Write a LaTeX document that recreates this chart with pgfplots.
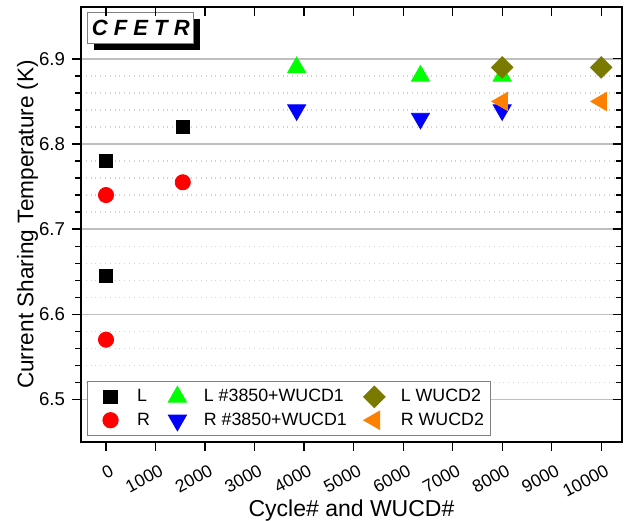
\documentclass[border=0pt]{standalone}
\usepackage{pgfplots}
\pgfplotsset{compat=1.18}
\usepackage{fontspec}
\setmainfont{Liberation Sans}
\setsansfont{Liberation Sans}
\usetikzlibrary{shadows}
\definecolor{mygreen}{RGB}{0,255,0}
\definecolor{myblue}{RGB}{0,0,255}
\definecolor{myred}{RGB}{255,0,0}
\definecolor{myolive}{RGB}{122,122,0}
\definecolor{myorange}{RGB}{255,128,0}
\begin{document}
\begin{tikzpicture}
\pgfplotsset{
  common/.style={
    scale only axis, width=270.5pt, height=217.4pt,
    xmin=-505, xmax=10420, ymin=6.45, ymax=6.961,
    xtick={0,1000,...,10000},
    ytick={6.5,6.6,6.7,6.8,6.9},
    minor y tick num=4,
    scaled x ticks=false,
    tick style={line width=0.6pt, black},
    major tick length=4.5pt, minor tick length=3pt,
  }
}
\begin{axis}[common,
  axis line style={line width=0.8pt},
  tick align=outside,
  xtick pos=left, ytick pos=left,
  ymajorgrids, yminorgrids,
  major grid style={gray!50, line width=0.6pt},
  minor grid style={gray!35, dotted, line width=0.6pt},
  /pgf/number format/assume math mode=true,
  xticklabel style={font=\fontsize{8.8}{10}\selectfont, inner sep=0.5pt, xshift=1.8pt, yshift=-5.6pt, rotate=28, anchor=north east, /pgf/number format/1000 sep={}},
  yticklabel style={font=\fontsize{9.3}{11}\selectfont, /pgf/number format/fixed, /pgf/number format/precision=1, /pgf/number format/fixed zerofill},
  xlabel={Cycle\# and WUCD\#},
  xlabel style={font=\fontsize{11.5}{13}\selectfont, inner sep=1pt, at={(axis description cs:0.5,-0.157)}, anchor=center},
  ylabel={Current Sharing Temperature (K)},
  ylabel style={font=\fontsize{11.3}{13}\selectfont, inner sep=1pt, at={(axis description cs:-0.099,0.5)}, anchor=center},
  legend columns=3,
  legend cell align=left,
  legend style={at={(rel axis cs:0.011,0.014)}, anchor=south west, draw=gray, line width=0.5pt,
    font=\fontsize{8.9}{10}\selectfont, row sep=1.3pt, inner sep=2.3pt,
    nodes={inner xsep=1pt, inner ysep=1pt, text height=6.5pt, text depth=1.5pt},
    /tikz/every even column/.append style={column sep=3.5pt}},
  legend image code/.code={\path (0pt,0pt) (21pt,0pt); \draw[#1] plot coordinates {(9pt,0pt)};},
]
\addplot[only marks, mark=square*, mark size=3.4pt, color=black] coordinates {(0,6.78) (0,6.645) (1550,6.82)};
\addlegendentry{L}
\addplot[only marks, mark=triangle*, mark size=5.2pt, color=mygreen] coordinates {(3850,6.89) (6350,6.88) (8000,6.88)};
\addlegendentry{L \#3850+WUCD1}
\addplot[only marks, mark=square*, mark size=3.8pt, mark options={rotate=45}, color=myolive] coordinates {(8000,6.89) (10000,6.89)};
\addlegendentry{L WUCD2}
\addplot[only marks, mark=*, mark size=3.8pt, color=myred] coordinates {(0,6.74) (0,6.57) (1550,6.755)};
\addlegendentry{R}
\addplot[only marks, mark=triangle*, mark size=5.2pt, mark options={rotate=180}, color=myblue] coordinates {(3850,6.84) (6350,6.83) (8000,6.84)};
\addlegendentry{R \#3850+WUCD1}
\addplot[only marks, mark=triangle*, mark size=5.2pt, mark options={rotate=90}, color=myorange] coordinates {(8000,6.85) (10000,6.85)};
\addlegendentry{R WUCD2}
\node[anchor=north west, draw=gray, line width=0.4pt, fill=white, inner xsep=2pt, minimum height=15.5pt,
  drop shadow={shadow xshift=3.3pt, shadow yshift=-3.3pt, opacity=1, fill=black},
  font=\fontsize{11}{13}\selectfont\bfseries\itshape] at (rel axis cs:0.012,0.988) {C F E T R};
\end{axis}
\begin{axis}[common,
  axis line style={draw=none},
  tick align=inside,
  xtick pos=right, ytick pos=right,
  xticklabels={}, yticklabels={},
]
\end{axis}
\pgfresetboundingbox
\path (current axis.south west) +(-40.5pt,-39.5pt);
\path (current axis.north east) +(1pt,3.5pt);
\end{tikzpicture}
\end{document}
